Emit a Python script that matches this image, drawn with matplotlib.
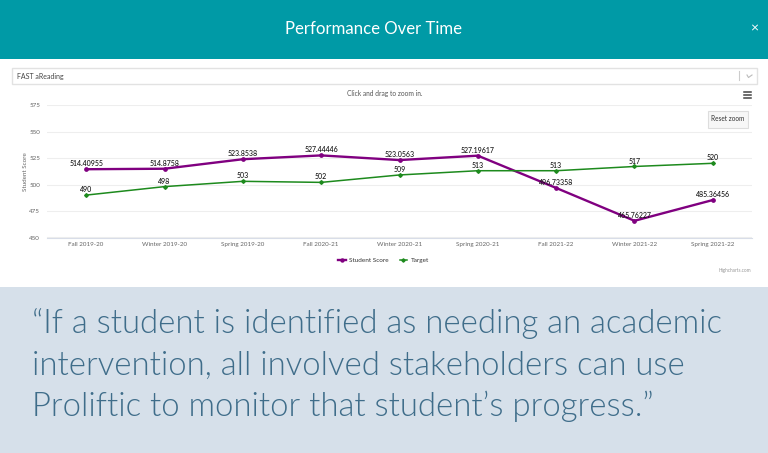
"""Performance over time: Highcharts-style panel with a quote below."""
import matplotlib
matplotlib.use("Agg")
import matplotlib.pyplot as plt
from matplotlib.patches import Rectangle

W, H = 768, 453

terms = ["Fall 2019-20", "Winter 2019-20", "Spring 2019-20", "Fall 2020-21",
         "Winter 2020-21", "Spring 2020-21", "Fall 2021-22", "Winter 2021-22",
         "Spring 2021-22"]
student_score = [514.40955, 514.8758, 523.8538, 527.44446, 523.0563, 527.19617,
                 496.73358, 465.76227, 485.36456]
student_labels = ["514.40955", "514.8758", "523.8538", "527.44446", "523.0563",
                  "527.19617", "496.73358", "465.76227", "485.36456"]
target = [490, 498, 503, 502, 509, 513, 513, 517, 520]
y_ticks = [450, 475, 500, 525, 550, 575]
quote_lines = ["\u201cIf a student is identified as needing an academic",
               "intervention, all involved stakeholders can use",
               "Proliftic to monitor that student\u2019s progress.\u201d"]

PURPLE = "#800080"
GREEN = "#1d8a1d"
TEAL = "#009aa6"
GREY = "#666666"

plt.rcParams["font.family"] = ["Lato", "DejaVu Sans"]

fig = plt.figure(figsize=(W / 100, H / 100), dpi=100)

# page layer in pixel coordinates, y down
bg = fig.add_axes([0, 0, 1, 1])
bg.set_xlim(0, W); bg.set_ylim(H, 0); bg.axis("off")
bg.add_patch(Rectangle((0, 0), W, 59, color=TEAL, lw=0))
bg.add_patch(Rectangle((0, 287), W, H - 287, color="#d6e0ea", lw=0))
bg.text(373.5, 29, "Performance Over Time", color="white", fontsize=12.1,
        ha="center", va="center")
bg.text(754, 28, "\u00d7", color="white", fontsize=10, ha="center", va="center")

# dropdown
bg.add_patch(Rectangle((12, 67.5), 745, 16, fc="white", ec="#e2e2e2", lw=1))
bg.text(17, 76, "FAST aReading", color="#444444", fontsize=5, va="center")
bg.plot([739, 739], [71, 80], color="#cccccc", lw=0.8)
bg.plot([747, 748.5, 752], [75, 77.5, 75], color="#bbbbbb", lw=0.8)

bg.text(384.5, 93.5, "Click and drag to zoom in.", color="#555555", fontsize=4.8,
        ha="center", va="center")
for yy in (91.5, 94.5, 97.5):
    bg.plot([743.5, 751], [yy, yy], color="#444444", lw=1.1)

# reset zoom button
bg.add_patch(Rectangle((707.5, 110.5), 40, 17, fc="#f7f7f7", ec="#dddddd", lw=0.8))
bg.text(727.5, 118.5, "Reset zoom", color="#333333", fontsize=4.7, ha="center",
        va="center")

# quote
for line, yy in zip(quote_lines, (323, 366, 406)):
    bg.text(32, yy, line, color="#3f6d8a", fontsize=23.65, weight=300, va="center")

# chart, positioned so the data scale lands on the reference pixels
left, right = 47 / W, 752 / W
top, bottom = 105, 237.5
ax = fig.add_axes([left, 1 - bottom / H, right - left, (bottom - top) / H])
ax.patch.set_alpha(0)
x = list(range(len(terms)))
ax.set_xlim(-0.5, len(terms) - 0.5)
ax.set_ylim(450, 575)
ax.set_yticks(y_ticks)
ax.set_xticks(x, terms)
ax.grid(axis="y", color="#eeeeee", lw=0.8)
ax.set_axisbelow(True)
for s in ("top", "right", "left"):
    ax.spines[s].set_visible(False)
ax.spines["bottom"].set_color("#d8dde8")
ax.tick_params(length=0, labelsize=4.5, labelcolor=GREY)
ax.tick_params(axis="x", pad=3.5)
ax.tick_params(axis="y", pad=5)
ax.set_ylabel("Student Score", fontsize=4.5, color=GREY, labelpad=1)

ax.plot(x, student_score, color=PURPLE, lw=1.7, marker="o", ms=2.4,
        label="Student Score", clip_on=False)
ax.plot(x, target, color=GREEN, lw=1.1, marker="D", ms=1.9,
        label="Target", clip_on=False)

for xi, yi, lab in zip(x, student_score, student_labels):
    ax.annotate(lab, (xi, yi), xytext=(0, 1.4), textcoords="offset points",
                ha="center", va="bottom", fontsize=5, color="#111111",
                weight="medium")
for xi, yi in zip(x, target):
    ax.annotate(str(yi), (xi, yi), xytext=(0, 1.4), textcoords="offset points",
                ha="center", va="bottom", fontsize=5, color="#111111",
                weight="medium")

ax.legend(loc="center", bbox_to_anchor=(383.5 / W, 1 - 260 / H),
          bbox_transform=fig.transFigure, ncol=2, frameon=False, fontsize=4.6,
          handlelength=1.2, columnspacing=1.7, handletextpad=0.5,
          markerscale=0.9, labelcolor="#333333")

bg.text(751, 270.5, "Highcharts.com", color="#999999", fontsize=3.4, ha="right",
        va="center")

fig.savefig("out.png", dpi=100)
